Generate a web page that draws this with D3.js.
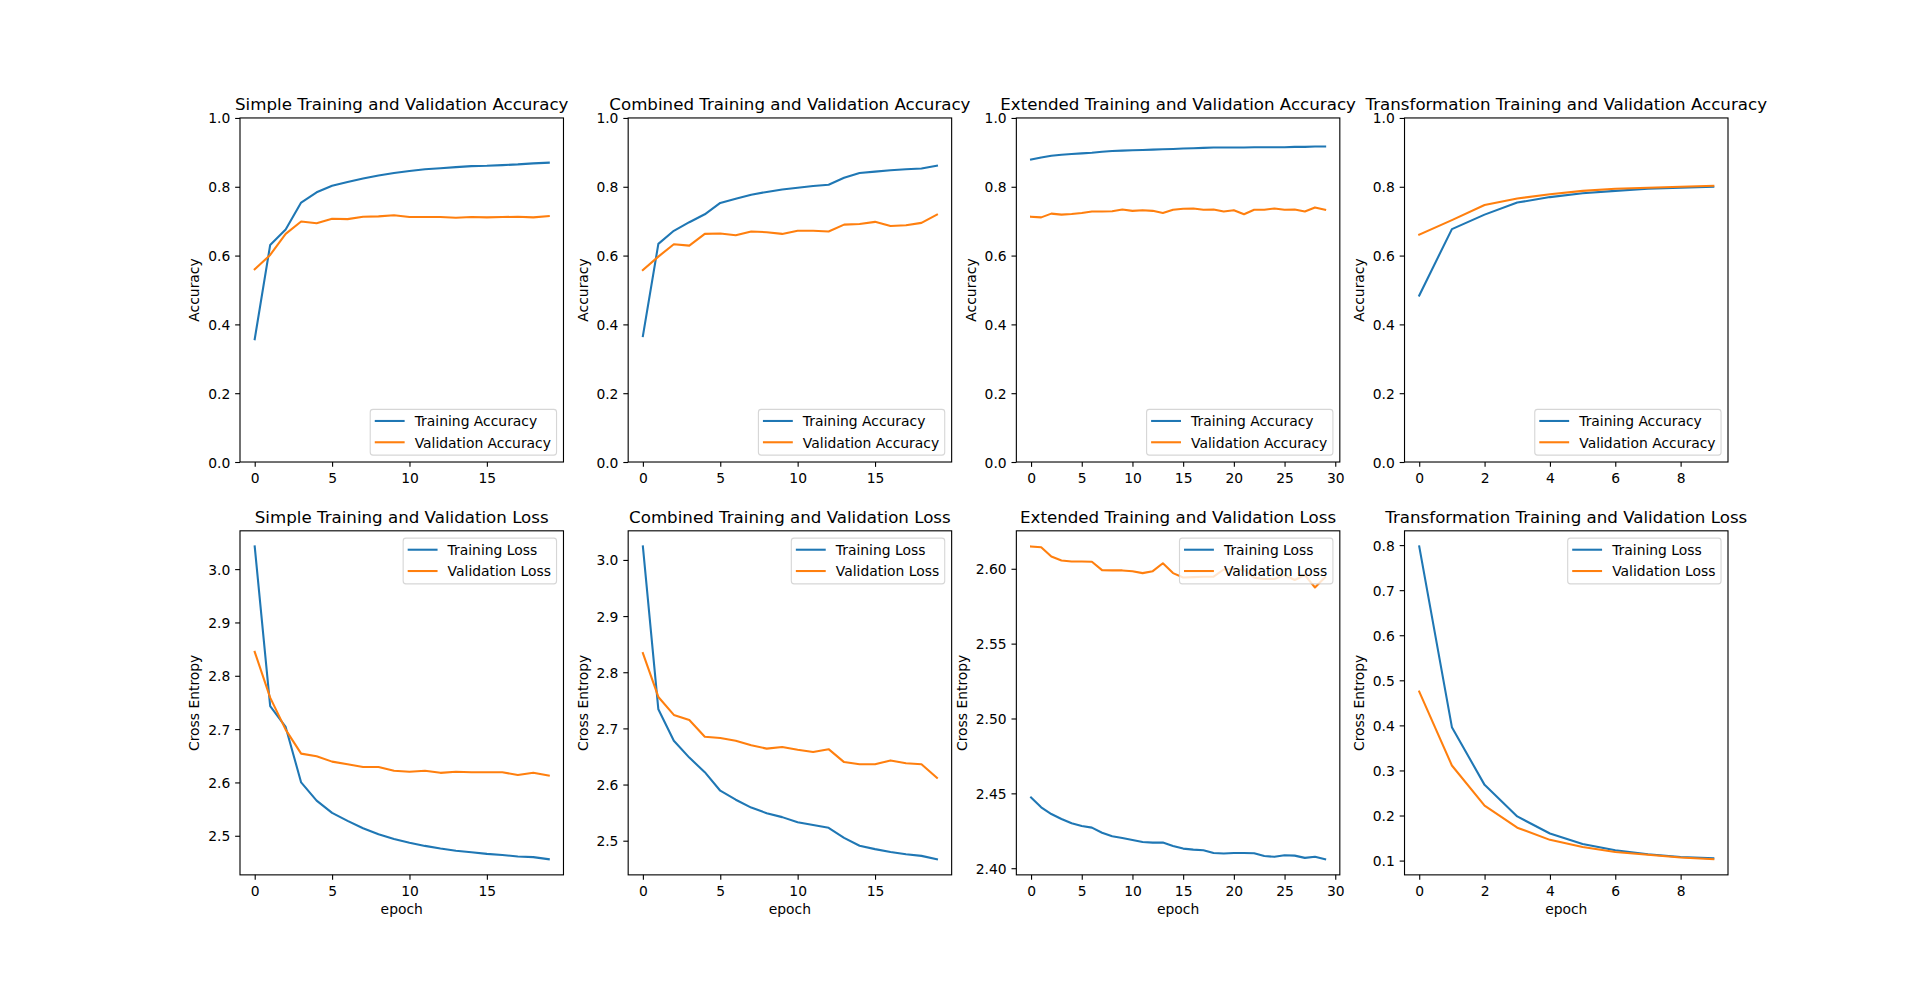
<!DOCTYPE html>
<html>
<head>
<meta charset="utf-8">
<script src="https://cdn.jsdelivr.net/npm/d3@7"></script>
<style>
  body { margin: 0; background: #fff; }
  text { font-family: "DejaVu Sans", sans-serif; fill: #000; }
</style>
</head>
<body>
<script>
// Values
const simpleAcc = [0.357, 0.631, 0.676, 0.754, 0.784, 0.803, 0.814, 0.824, 0.833, 0.840,
  0.846, 0.851, 0.854, 0.857, 0.860, 0.861, 0.863, 0.865, 0.868, 0.870];
const simpleValAcc = [0.560, 0.602, 0.663, 0.699, 0.694, 0.707, 0.706, 0.713, 0.714, 0.717,
  0.712, 0.712, 0.712, 0.710, 0.712, 0.711, 0.712, 0.713, 0.711, 0.715];
const simpleLoss = [3.0425, 2.743, 2.704, 2.600, 2.566, 2.543, 2.528, 2.514, 2.503, 2.494,
  2.487, 2.481, 2.476, 2.472, 2.469, 2.466, 2.464, 2.461, 2.460, 2.456];
const simpleValLoss = [2.845, 2.759, 2.699, 2.654, 2.649, 2.639, 2.634, 2.629, 2.629, 2.622,
  2.620, 2.622, 2.618, 2.620, 2.619, 2.619, 2.619, 2.614, 2.618, 2.613];

const combinedAcc = [0.366, 0.634, 0.672, 0.697, 0.720, 0.753, 0.765, 0.777, 0.785, 0.792,
  0.797, 0.802, 0.806, 0.826, 0.840, 0.844, 0.848, 0.851, 0.853, 0.861];
const combinedValAcc = [0.558, 0.597, 0.633, 0.629, 0.663, 0.664, 0.659, 0.670, 0.668, 0.663,
  0.672, 0.672, 0.670, 0.690, 0.692, 0.698, 0.686, 0.688, 0.695, 0.719];
const combinedLoss = [3.024, 2.734, 2.678, 2.648, 2.622, 2.589, 2.573, 2.559, 2.549, 2.542,
  2.533, 2.528, 2.523, 2.505, 2.491, 2.485, 2.480, 2.476, 2.473, 2.467];
const combinedValLoss = [2.834, 2.756, 2.724, 2.715, 2.685, 2.683, 2.678, 2.670, 2.664, 2.667,
  2.662, 2.658, 2.663, 2.640, 2.636, 2.636, 2.643, 2.638, 2.636, 2.612];

const extendedAcc = [0.879, 0.885, 0.890, 0.893, 0.895, 0.897, 0.899, 0.902, 0.904, 0.905,
  0.906, 0.907, 0.908, 0.909, 0.910, 0.911, 0.912, 0.913, 0.914, 0.914,
  0.914, 0.914, 0.915, 0.915, 0.915, 0.915, 0.916, 0.916, 0.917, 0.917];
const extendedValAcc = [0.713, 0.711, 0.722, 0.719, 0.721, 0.724, 0.728, 0.728, 0.729, 0.734,
  0.730, 0.732, 0.730, 0.724, 0.733, 0.736, 0.737, 0.733, 0.734, 0.728,
  0.732, 0.720, 0.733, 0.733, 0.737, 0.733, 0.734, 0.728, 0.740, 0.733];
const extendedLoss = [2.4473, 2.4407, 2.4362, 2.4329, 2.4300, 2.4282, 2.4271, 2.4237, 2.4213, 2.4202,
  2.4189, 2.4175, 2.4171, 2.4171, 2.4149, 2.4131, 2.4124, 2.4120, 2.4102, 2.4098,
  2.4102, 2.4102, 2.4100, 2.4082, 2.4076, 2.4087, 2.4084, 2.4069, 2.4076, 2.4060];
const extendedValLoss = [2.6149, 2.6144, 2.6082, 2.6055, 2.6049, 2.6049, 2.6047, 2.5991, 2.5989, 2.5989,
  2.5984, 2.5971, 2.5984, 2.6037, 2.5971, 2.5942, 2.5944, 2.5947, 2.5947, 2.5995,
  2.6000, 2.5990, 2.5941, 2.5932, 2.5932, 2.5958, 2.5925, 2.5958, 2.5875, 2.5944];

const transformAcc = [0.484, 0.677, 0.719, 0.754, 0.770, 0.781, 0.788, 0.794, 0.797, 0.800];
const transformValAcc = [0.661, 0.703, 0.747, 0.766, 0.778, 0.788, 0.794, 0.797, 0.800, 0.803];
const transformLoss = [0.797, 0.396, 0.268, 0.198, 0.160, 0.137, 0.123, 0.114, 0.108, 0.105];
const transformValLoss = [0.475, 0.311, 0.222, 0.173, 0.146, 0.130, 0.119, 0.113, 0.107, 0.103];

// Tick labels
const accTicks = ["0.0", "0.2", "0.4", "0.6", "0.8", "1.0"];
const simpleLossTicks = ["2.5", "2.6", "2.7", "2.8", "2.9", "3.0"];
const combinedLossTicks = ["2.5", "2.6", "2.7", "2.8", "2.9", "3.0"];
const extendedLossTicks = ["2.40", "2.45", "2.50", "2.55", "2.60"];
const transformLossTicks = ["0.1", "0.2", "0.3", "0.4", "0.5", "0.6", "0.7", "0.8"];
const epochTicks20 = ["0", "5", "10", "15"];
const epochTicks30 = ["0", "5", "10", "15", "20", "25", "30"];
const epochTicks10 = ["0", "2", "4", "6", "8"];

const accNames = ["Training Accuracy", "Validation Accuracy"];
const lossNames = ["Training Loss", "Validation Loss"];

// Figure layout (matplotlib default subplot params)
const width = 1920, height = 983;
const figLeft = 240, figRight = 1728, figTop = 117.96, figBottom = 874.87;
const axW = (figRight - figLeft) / 4.6;
const axH = (figBottom - figTop) / 2.2;
const fontSize = 13.89;
const tickLen = 4.86, tickPad = 4.86;
const colors = ["#1f77b4", "#ff7f0e"];

const panels = [
  { row: 0, col: 0, title: "Simple Training and Validation Accuracy", series: [simpleAcc, simpleValAcc], names: accNames, yTicks: accTicks, xTicks: epochTicks20, ylabel: "Accuracy", fixed: [0, 1], legend: "lower" },
  { row: 0, col: 1, title: "Combined Training and Validation Accuracy", series: [combinedAcc, combinedValAcc], names: accNames, yTicks: accTicks, xTicks: epochTicks20, ylabel: "Accuracy", fixed: [0, 1], legend: "lower" },
  { row: 0, col: 2, title: "Extended Training and Validation Accuracy", series: [extendedAcc, extendedValAcc], names: accNames, yTicks: accTicks, xTicks: epochTicks30, ylabel: "Accuracy", fixed: [0, 1], legend: "lower" },
  { row: 0, col: 3, title: "Transformation Training and Validation Accuracy", series: [transformAcc, transformValAcc], names: accNames, yTicks: accTicks, xTicks: epochTicks10, ylabel: "Accuracy", fixed: [0, 1], legend: "lower" },
  { row: 1, col: 0, title: "Simple Training and Validation Loss", series: [simpleLoss, simpleValLoss], names: lossNames, yTicks: simpleLossTicks, xTicks: epochTicks20, ylabel: "Cross Entropy", legend: "upper" },
  { row: 1, col: 1, title: "Combined Training and Validation Loss", series: [combinedLoss, combinedValLoss], names: lossNames, yTicks: combinedLossTicks, xTicks: epochTicks20, ylabel: "Cross Entropy", legend: "upper" },
  { row: 1, col: 2, title: "Extended Training and Validation Loss", series: [extendedLoss, extendedValLoss], names: lossNames, yTicks: extendedLossTicks, xTicks: epochTicks30, ylabel: "Cross Entropy", legend: "upper" },
  { row: 1, col: 3, title: "Transformation Training and Validation Loss", series: [transformLoss, transformValLoss], names: lossNames, yTicks: transformLossTicks, xTicks: epochTicks10, ylabel: "Cross Entropy", legend: "upper" },
];

const svg = d3.select("body")
  .append("svg")
  .attr("width", width)
  .attr("height", height)
  .style("background", "#fff");

panels.forEach((p) => {
  const x0 = figLeft + p.col * axW * 1.2;
  const y0 = figTop + p.row * axH * 1.2;
  const x1 = x0 + axW, y1 = y0 + axH;
  const n = p.series[0].length;

  // x-scale with matplotlib's 5% margins
  const xScale = d3.scaleLinear()
    .domain([-0.05 * (n - 1), (n - 1) * 1.05])
    .range([x0, x1]);

  // y-scale: fixed for accuracy, auto (5% margin) for loss
  let yDomain;
  if (p.fixed) {
    yDomain = p.fixed;
  } else {
    const lo = d3.min(p.series, (s) => d3.min(s));
    const hi = d3.max(p.series, (s) => d3.max(s));
    const m = (hi - lo) * 0.05;
    yDomain = [lo - m, hi + m];
  }
  const yScale = d3.scaleLinear().domain(yDomain).range([y1, y0]);

  const g = svg.append("g");

  // Add lines
  const line = d3.line()
    .x((d, i) => xScale(i))
    .y((d) => yScale(d));
  p.series.forEach((s, k) => {
    g.append("path")
      .datum(s)
      .attr("d", line)
      .attr("fill", "none")
      .attr("stroke", colors[k])
      .attr("stroke-width", 2.08)
      .attr("stroke-linejoin", "round")
      .attr("stroke-linecap", "square");
  });

  // Create x-axis
  const xAxis = d3.axisBottom(xScale)
    .tickValues(p.xTicks.map(Number))
    .tickFormat((d, i) => p.xTicks[i])
    .tickSizeInner(tickLen)
    .tickSizeOuter(0)
    .tickPadding(tickPad);
  const gx = g.append("g")
    .attr("transform", `translate(0, ${y1})`)
    .call(xAxis);
  gx.select(".domain").remove();
  gx.selectAll("line").attr("stroke", "#000").attr("stroke-width", 1.11);
  gx.selectAll("text")
    .attr("font-size", fontSize)
    .attr("font-family", "DejaVu Sans")
    .attr("fill", "#000")
    .attr("dy", "0.8em");

  // Create y-axis
  const yAxis = d3.axisLeft(yScale)
    .tickValues(p.yTicks.map(Number))
    .tickFormat((d, i) => p.yTicks[i])
    .tickSizeInner(tickLen)
    .tickSizeOuter(0)
    .tickPadding(tickPad);
  const gy = g.append("g")
    .attr("transform", `translate(${x0}, 0)`)
    .call(yAxis);
  gy.select(".domain").remove();
  gy.selectAll("line").attr("stroke", "#000").attr("stroke-width", 1.11);
  gy.selectAll("text")
    .attr("font-size", fontSize)
    .attr("font-family", "DejaVu Sans")
    .attr("fill", "#000")
    .attr("dy", "0.36em");

  // Axes frame
  g.append("rect")
    .attr("x", x0)
    .attr("y", y0)
    .attr("width", axW)
    .attr("height", axH)
    .attr("fill", "none")
    .attr("stroke", "#000")
    .attr("stroke-width", 1.11);

  // Add y axis label (placed left of the widest tick label)
  let maxW = 0;
  gy.selectAll("text").each(function () {
    maxW = Math.max(maxW, this.getComputedTextLength());
  });
  const labelX = x0 - tickLen - tickPad - maxW - 5.56 - 3.3;
  g.append("text")
    .attr("transform", `translate(${labelX}, ${(y0 + y1) / 2}) rotate(-90)`)
    .attr("text-anchor", "middle")
    .attr("font-size", fontSize)
    .text(p.ylabel);

  // Add x axis label for bottom row
  if (p.row === 1) {
    g.append("text")
      .attr("x", (x0 + x1) / 2)
      .attr("y", y1 + 39)
      .attr("text-anchor", "middle")
      .attr("font-size", fontSize)
      .text("epoch");
  }

  // Title
  g.append("text")
    .attr("x", (x0 + x1) / 2)
    .attr("y", y0 - 7.6)
    .attr("text-anchor", "middle")
    .attr("font-size", 16.67)
    .text(p.title);

  // Legend
  const lg = g.append("g");
  const labels = lg.selectAll("text.lbl")
    .data(p.names)
    .join("text")
    .attr("class", "lbl")
    .attr("font-size", fontSize)
    .text((d) => d);
  let textW = 0;
  labels.each(function () {
    textW = Math.max(textW, this.getComputedTextLength());
  });
  const boxW = 5.56 + 27.8 + 11.1 + textW + 5.56;
  const boxH = 45.7;
  const bx = x1 - 6.94 - boxW;
  const by = p.legend === "lower" ? y1 - 6.94 - boxH : y0 + 7.3;
  lg.insert("rect", "text")
    .attr("x", bx)
    .attr("y", by)
    .attr("width", boxW)
    .attr("height", boxH)
    .attr("rx", 2.78)
    .attr("fill", "#fff")
    .attr("fill-opacity", 0.8)
    .attr("stroke", "#cccccc")
    .attr("stroke-opacity", 0.8)
    .attr("stroke-width", 1.11);
  const rowY = [by + 11.6, by + 32.9];
  p.names.forEach((nm, k) => {
    lg.append("line")
      .attr("x1", bx + 5.56)
      .attr("x2", bx + 5.56 + 27.8)
      .attr("y1", rowY[k])
      .attr("y2", rowY[k])
      .attr("stroke", colors[k])
      .attr("stroke-width", 2.08)
      .attr("stroke-linecap", "square");
  });
  labels
    .attr("x", bx + 5.56 + 27.8 + 11.1)
    .attr("y", (d, k) => rowY[k])
    .attr("dy", "0.38em")
    .raise();
});
</script>
</body>
</html>
